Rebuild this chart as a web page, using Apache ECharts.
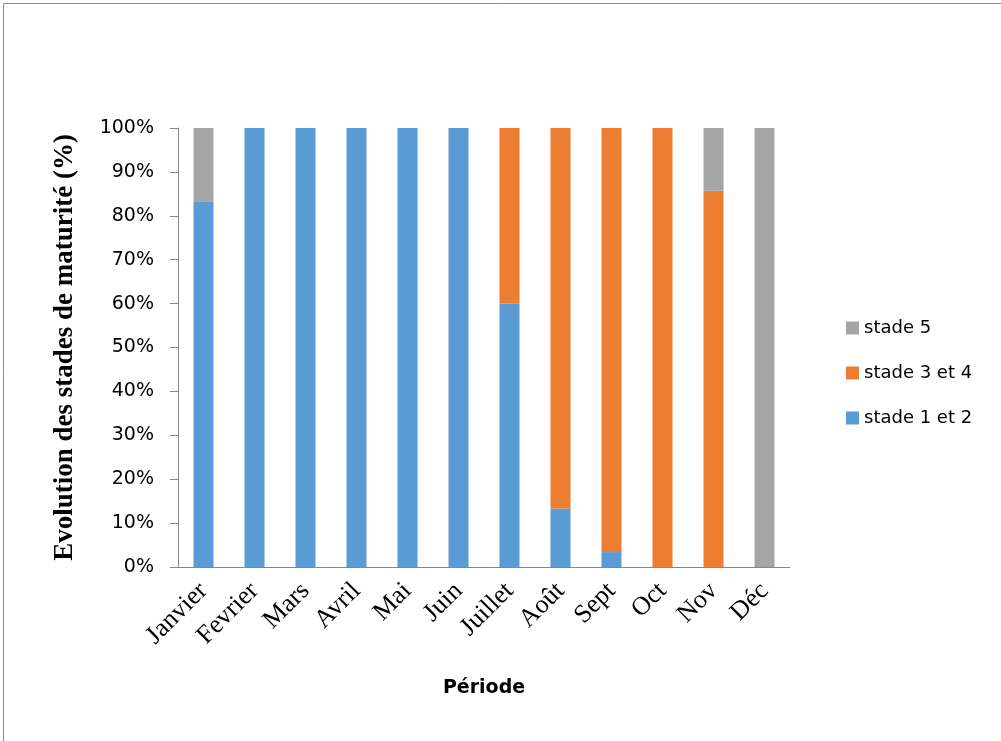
<!DOCTYPE html>
<html><head><meta charset="utf-8">
<script src="https://cdn.jsdelivr.net/npm/echarts@6/dist/echarts.min.js"></script>
<style>html,body{margin:0;padding:0;background:#fff}#c{width:1001px;height:741px}</style>
</head><body><div id="c"></div>
<script>
const categories = ['Janvier','Fevrier','Mars','Avril','Mai','Juin','Juillet','Août','Sept','Oct','Nov','Déc'];
const stade12 = [83.3,100,100,100,100,100,60,13.3,3.4,0,0,0];
const stade34 = [0,0,0,0,0,0,40,86.7,96.6,100,85.7,0];
const stade5  = [16.7,0,0,0,0,0,0,0,0,0,14.3,100];
const yTicks = [0,10,20,30,40,50,60,70,80,90,100];

const chart = echarts.init(document.getElementById('c'));
const axisCol = '#868686';
chart.setOption({
  animation:false,
  graphic:[{type:'rect',shape:{x:3.5,y:3.5,width:1100,height:1100},style:{fill:'none',stroke:'#8c8c8c',lineWidth:1}}],
  grid:{left:178,right:211,top:128,bottom:174},
  legend:{
    orient:'vertical', left:846, top:318, padding:0, itemGap:25, itemWidth:13, itemHeight:13,
    icon:'rect', data:['stade 5','stade 3 et 4','stade 1 et 2'],
    textStyle:{fontFamily:'DejaVu Sans, sans-serif',fontSize:18,lineHeight:20,color:'#000'}
  },
  xAxis:{
    type:'category', data:categories,
    name:'Période', nameLocation:'middle', nameGap:112,
    nameTextStyle:{fontFamily:'DejaVu Sans, sans-serif',fontWeight:'bold',fontSize:19,color:'#000'},
    axisLine:{lineStyle:{color:axisCol}}, axisTick:{length:8,lineStyle:{color:axisCol}},
    axisLabel:{rotate:45,interval:0,margin:20,fontFamily:'Liberation Serif, serif',fontSize:26,color:'#000'}
  },
  yAxis:{
    type:'value', min:0, max:100, interval:10,
    name:'Evolution des stades de maturité (%)', nameLocation:'middle', nameGap:99,
    nameTextStyle:{fontFamily:'Liberation Serif, serif',fontWeight:'bold',fontSize:27,color:'#000'},
    axisLine:{show:true,lineStyle:{color:axisCol}}, axisTick:{show:true,length:8,lineStyle:{color:axisCol}},
    splitLine:{show:false},
    axisLabel:{margin:24,fontFamily:'DejaVu Sans, sans-serif',fontSize:19,color:'#000',
      formatter:v=>yTicks.includes(v)?v+'%':''}
  },
  series:[
    {name:'stade 1 et 2',type:'bar',stack:'s',data:stade12,barWidth:20,itemStyle:{color:'#5B9BD5'}},
    {name:'stade 3 et 4',type:'bar',stack:'s',data:stade34,barWidth:20,itemStyle:{color:'#ED7D31'}},
    {name:'stade 5',type:'bar',stack:'s',data:stade5,barWidth:20,itemStyle:{color:'#A5A5A5'}}
  ]
});
</script></body></html>
